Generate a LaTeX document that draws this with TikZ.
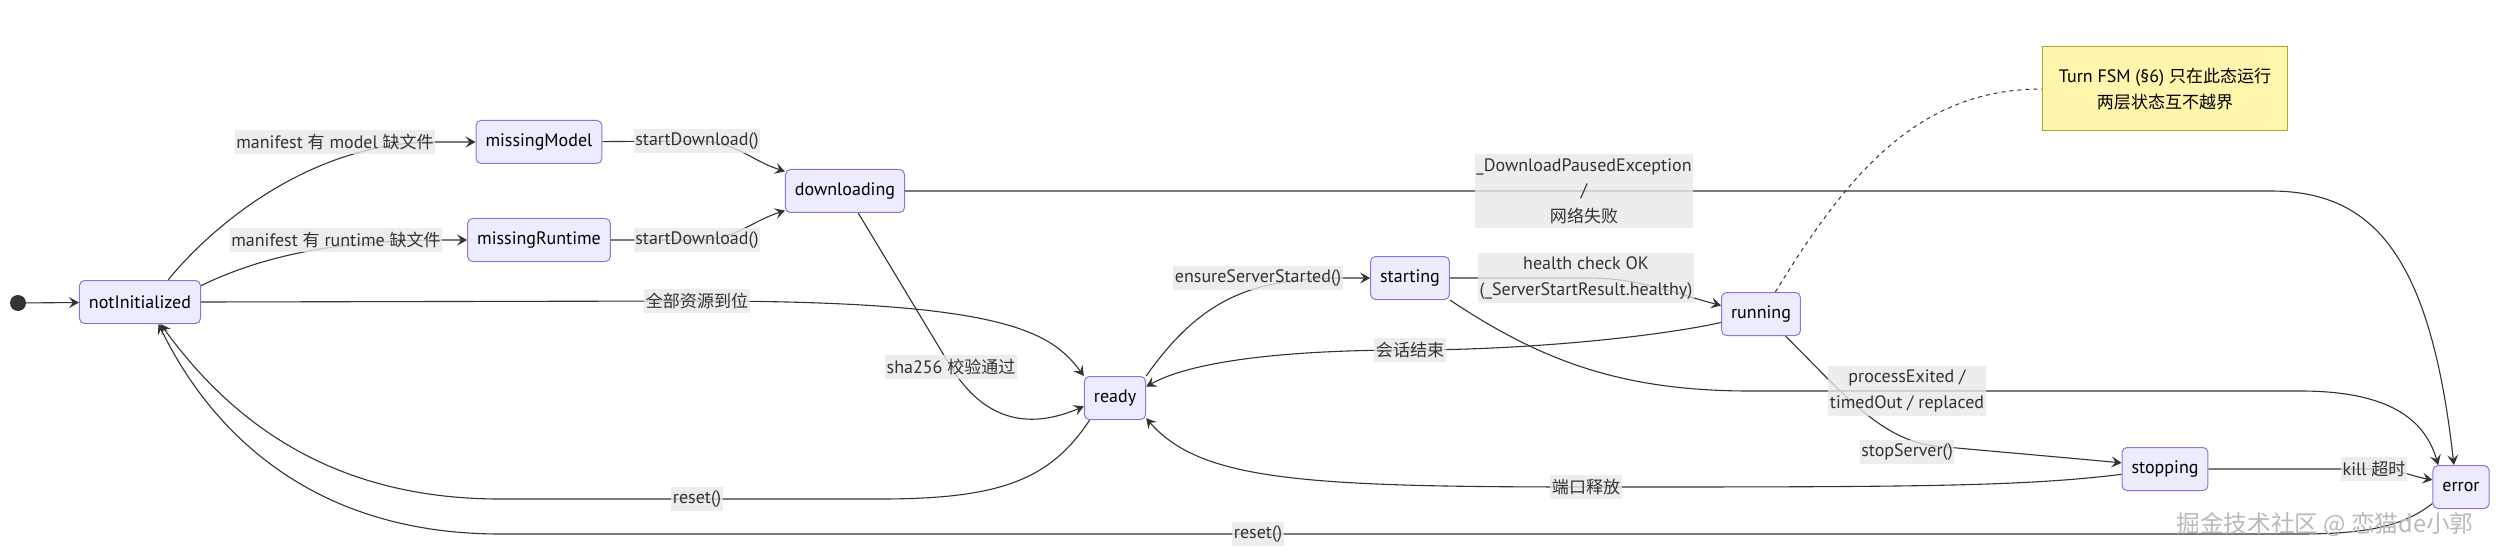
\documentclass[tikz,border=0pt]{standalone}
\usepackage{fontspec}
\setmainfont{PT Sans}
\newfontfamily\cjk[Scale=0.945]{Noto Sans CJK SC}
\usetikzlibrary{arrows.meta,backgrounds}

\definecolor{statefill}{HTML}{ECECFF}
\definecolor{stateline}{HTML}{9370DB}
\definecolor{edgeline}{HTML}{333333}
\definecolor{labelfill}{HTML}{E8E8E8}
\definecolor{notefill}{HTML}{FFF5AD}
\definecolor{noteline}{HTML}{AAAA33}

\begin{document}
\begin{tikzpicture}[x=1pt, y=-1pt, font=\fontsize{18}{25.5}\selectfont,
    state/.style={draw=stateline, fill=statefill, line width=1pt, rounded corners=5pt,
                  minimum height=43pt, inner xsep=9.5pt, text=black},
    lbl/.style={fill=labelfill, fill opacity=0.8, text opacity=1, text=edgeline,
                inner xsep=1.5pt, inner ysep=4pt, align=center},
    tr/.style={draw=edgeline, line width=1.1pt, -{Stealth[length=10pt, width=11pt, inset=4pt]}},
    notebox/.style={draw=noteline, fill=notefill, line width=1pt, align=center,
                    minimum width=245pt, minimum height=84pt},
    notelink/.style={draw=edgeline, line width=1pt, dash pattern=on 4pt off 4pt}]
    \useasboundingbox (0,0) rectangle (2500,556);

    % states
    \node at (18, 303)   (start) [circle, fill=edgeline, minimum size=16pt, inner sep=0pt] {};
    \node at (140, 302)  (notinit) [state] {notInitialized};
    \node at (539, 142)  (missmodel) [state] {missingModel};
    \node at (539, 240)  (missrt) [state] {missingRuntime};
    \node at (845, 191)  (download) [state] {downloading};
    \node at (1115, 398) (ready) [state] {ready};
    \node at (1410, 278) (starting) [state] {starting};
    \node at (1761, 314) (running) [state] {running};
    \node at (2165, 469) (stopping) [state] {stopping};
    \node at (2461, 487) (error) [state] {error};
    \node at (2165, 89)  (note) [notebox] {Turn FSM (§6) {\cjk 只在此态运行}\\{\cjk 两层状态互不越界}};

    % transition labels
    \node at (335, 142)  (lmodel) [lbl] {manifest {\cjk 有} model {\cjk 缺文件}};
    \node at (336, 240)  (lrt) [lbl] {manifest {\cjk 有} runtime {\cjk 缺文件}};
    \node at (697, 141)  (ldlone) [lbl] {startDownload()};
    \node at (697, 240)  (ldltwo) [lbl] {startDownload()};
    \node at (697, 301)  (lall) [lbl] {{\cjk 全部资源到位}};
    \node at (951, 367)  (lsha) [lbl] {sha256 {\cjk 校验通过}};
    \node at (1584, 191) (lpause) [lbl] {\_DownloadPausedException\\/\\{\cjk 网络失败}};
    \node at (1258, 278) (lensure) [lbl] {ensureServerStarted()};
    \node at (1586, 278) (lhealth) [lbl] {health check OK\\(\_ServerStartResult.healthy)};
    \node at (1410, 350) (lsession) [lbl] {{\cjk 会话结束}};
    \node at (1907, 391) (lexit) [lbl] {processExited /\\timedOut / replaced};
    \node at (1907, 452) (lstop) [lbl] {stopServer()};
    \node at (1586, 487) (lport) [lbl] {{\cjk 端口释放}};
    \node at (2374, 469) (lkill) [lbl] {kill {\cjk 超时}};
    \node at (697, 499)  (lresetone) [lbl] {reset()};
    \node at (1258, 534) (lresettwo) [lbl] {reset()};

    \node at (2325, 524) (mark) [font=\cjk\fontsize{25}{28}\selectfont, text=gray!55] {掘金技术社区 @ 恋猫de小郭};

    \begin{scope}[on background layer]
    \draw[tr] (start) -- (notinit);
    \draw[tr] (notinit.38) .. controls (200,240) and (300,142) .. (lmodel.east) -- (missmodel);
    \draw[tr] (notinit.15) .. controls (250,262) and (320,240) .. (lrt.east) -- (missrt);
    \draw[tr] (missmodel) -- (ldlone.center) .. controls (735,141) and (750,160) .. (download.162);
    \draw[tr] (missrt) -- (ldltwo.center) .. controls (735,240) and (750,222) .. (download.198);
    \draw[tr] (notinit.east) -- (lall.center) .. controls (1000,301) and (1050,330) .. (ready.north west);
    \draw[tr] (download.-59) -- (lsha.center) .. controls (990,430) and (1040,425) .. (ready.195);
    \draw[tr] (download) -- (lpause.center) -- (2270,191) .. controls (2370,191) and (2430,250) .. (error.108);
    \draw[tr] (ready.north east) .. controls (1200,300) and (1250,278) .. (lensure.east) -- (starting);
    \draw[tr] (starting) -- (lhealth.center) .. controls (1640,278) and (1670,292) .. (running.168);
    \draw[tr] (running.192) .. controls (1650,338) and (1520,350) .. (lsession.center)
        .. controls (1280,350) and (1190,362) .. (ready.20);
    \draw[tr] (starting.south east) .. controls (1540,360) and (1620,391) .. (1750,391) -- (lexit.center)
        -- (2300,391) .. controls (2390,391) and (2425,420) .. (error.136);
    \draw[tr] (running.-42) .. controls (1840,390) and (1880,440) .. (1935,446)
        .. controls (2000,452) and (2070,458) .. (stopping.172);
    \draw[tr] (stopping.187) .. controls (2020,487) and (1900,487) .. (lport.center)
        .. controls (1300,487) and (1200,480) .. (ready.-33);
    \draw[tr] (stopping) -- (lkill.center) .. controls (2400,469) and (2410,476) .. (error.166);
    \draw[tr] (ready.-139) .. controls (1050,480) and (1000,499) .. (880,499) -- (lresetone.center)
        -- (500,499) .. controls (330,499) and (230,420) .. (notinit.-47);
    \draw[tr] (error.210) .. controls (2405,525) and (2370,534) .. (2300,534) -- (lresettwo.center)
        -- (500,534) .. controls (320,534) and (215,440) .. (notinit.-50);
    \draw[notelink] (running.57) .. controls (1850,170) and (1920,89) .. (note.west);
    \end{scope}
\end{tikzpicture}
\end{document}
